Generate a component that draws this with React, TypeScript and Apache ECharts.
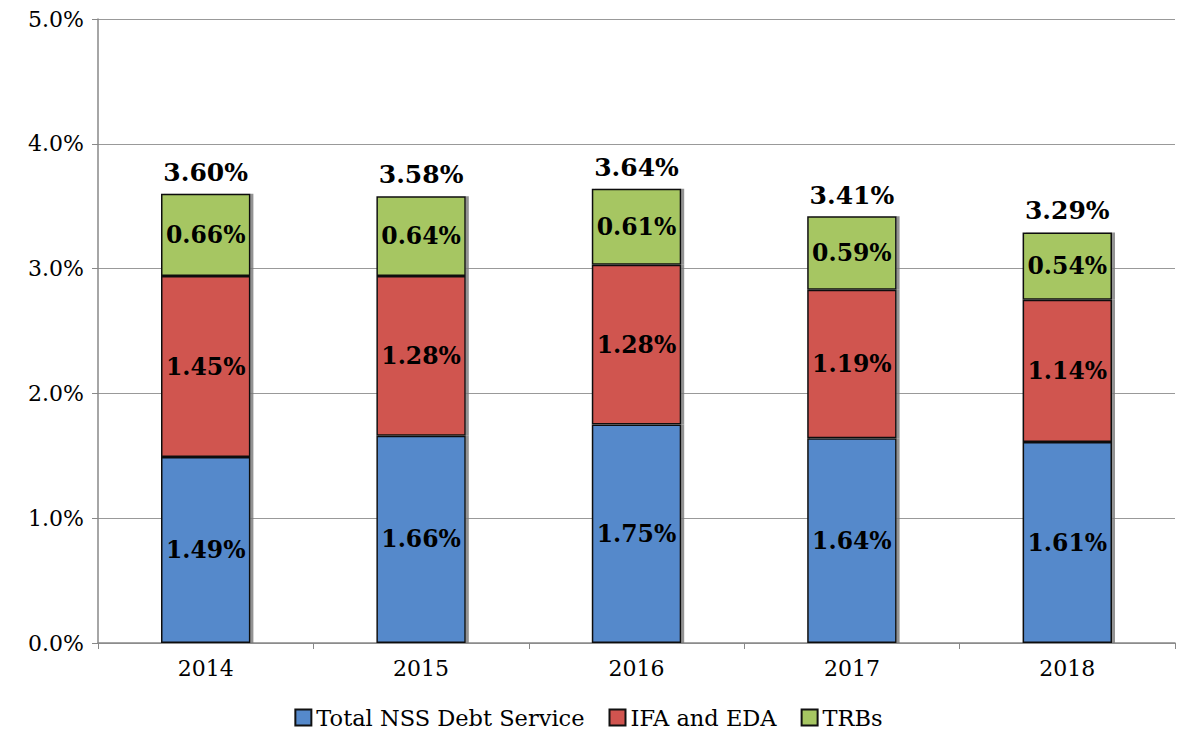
import React, { useEffect, useRef } from "react";
import * as echarts from "echarts";

const categories = ["2014", "2015", "2016", "2017", "2018"];
const nssDebt = [1.49, 1.66, 1.75, 1.64, 1.61];
const ifaEda = [1.45, 1.28, 1.28, 1.19, 1.14];
const trbs = [0.66, 0.64, 0.61, 0.59, 0.54];
const totals = [3.6, 3.58, 3.64, 3.41, 3.29];
const seriesNames = ["Total NSS Debt Service", "IFA and EDA", "TRBs"];
const colors = ["#5589CB", "#D0544F", "#A6C662"];

const FONT = "DejaVu Serif";

export default function App() {
  const ref = useRef<HTMLDivElement>(null);
  useEffect(() => {
    document.body.style.margin = "0";
    const chart = echarts.init(ref.current!, null, { renderer: "svg" });
    const mkBar = (name: string, data: number[], color: string) => ({
      name,
      type: "bar",
      stack: "total",
      data,
      barWidth: "41.5%",
      itemStyle: {
        color,
        borderColor: "#111",
        borderWidth: 1.5,
        shadowColor: "rgba(120,120,120,0.8)",
        shadowOffsetX: 3,
        shadowOffsetY: 0,
        shadowBlur: 0,
      },
      label: {
        show: true,
        position: "inside",
        formatter: (p: any) => p.value.toFixed(2) + "%",
        color: "#000",
        fontFamily: FONT,
        fontWeight: "bold",
        fontSize: 23.5,
      },
    });
    chart.setOption({
      animation: false,
      grid: { left: 98, right: 2, top: 19, bottom: 91, containLabel: false },
      legend: {
        data: seriesNames,
        bottom: 0,
        left: "center",
        itemWidth: 16,
        itemHeight: 16,
        itemGap: 24,
        icon: "rect",
        textStyle: { fontFamily: FONT, fontSize: 22.5, color: "#000" },
      },
      xAxis: {
        type: "category",
        data: categories,
        axisLine: { lineStyle: { color: "#888", width: 1.5 } },
        axisTick: { show: true, length: 6, alignWithLabel: false, lineStyle: { color: "#888" } },
        axisLabel: { fontFamily: FONT, fontSize: 22, color: "#000", margin: 14 },
      },
      yAxis: {
        type: "value",
        min: 0,
        max: 5,
        interval: 1,
        axisLine: { show: true, lineStyle: { color: "#888", width: 1.5 } },
        axisTick: { show: true, length: 6, lineStyle: { color: "#888" } },
        splitLine: { lineStyle: { color: "#999", width: 1 } },
        axisLabel: {
          fontFamily: FONT,
          fontSize: 22,
          color: "#000",
          margin: 14,
          formatter: (v: number) => v.toFixed(1) + "%",
        },
      },
      series: [
        mkBar(seriesNames[0], nssDebt, colors[0]),
        mkBar(seriesNames[1], ifaEda, colors[1]),
        mkBar(seriesNames[2], trbs, colors[2]),
        {
          name: "Total",
          type: "scatter",
          data: totals,
          symbolSize: 0,
          silent: true,
          itemStyle: { opacity: 1, color: "#000" },
          label: {
            show: true,
            position: "top",
            distance: 9,
            formatter: (p: any) => p.value.toFixed(2) + "%",
            color: "#000",
            opacity: 1,
            fontFamily: FONT,
            fontWeight: "bold",
            fontSize: 25,
          },
        },
      ],
    });
    return () => chart.dispose();
  }, []);
  return <div ref={ref} style={{ width: 1177, height: 734 }} />;
}
